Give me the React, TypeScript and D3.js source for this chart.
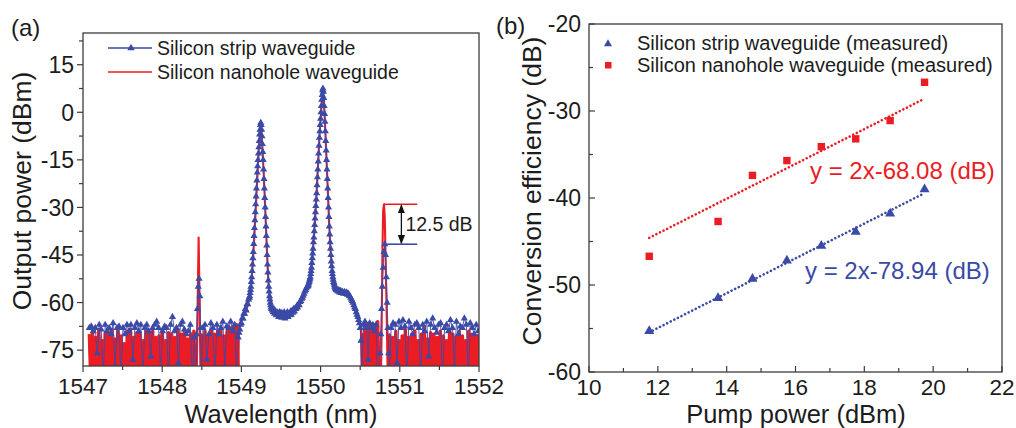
import React from 'react';
import * as d3 from 'd3';

// ---------------- Panel (a): spectra ----------------
const wavelengthTicks = [1547, 1548, 1549, 1550, 1551, 1552];
const outputPowerTicks = [-75, -60, -45, -30, -15, 0, 15];

type Seg = { start: number; step: number; values: number[] };

// Silicon strip waveguide (blue, triangles)
const stripNoiseLeft: Seg = { start: 1547.08, step: 0.025, values: [
  -68, -67.5, -69, -68, -76, -67, -68.5, -84, -67, -69,
  -68, -70, -66.5, -80, -68, -67.5, -84, -68, -70, -67,
  -69, -67, -78, -68, -66.5, -69, -67, -84, -68, -67,
  -69, -77, -68, -67, -66, -68, -82, -69, -67.5, -68,
  -84, -67, -64.5, -69, -68, -79, -67, -66, -68.5, -70,
  -69, -67, -84, -71] };
const stripIdlerLeft: Seg = { start: 1548.425, step: 0.01, values: [-84, -70, -62, -55, -52.5, -58, -68, -84] };
const stripNoiseMid: Seg = { start: 1548.515, step: 0.025, values: [
  -68, -67, -78, -70, -66.5, -68, -84, -67, -70, -68, -66, -80, -67.5, -68, -66, -69, -67, -84] };
const stripRise: Seg = { start: 1548.96, step: 0.01, values: [
  -71, -69.5, -68.5, -67, -66.5, -65, -65, -63.5, -63.5, -62, -62.5, -60.5, -60.5, -59, -58.5] };
const stripSignal: Seg = { start: 1549.105, step: 0.005, values: [
  -58, -57, -56, -55, -53.5, -52, -50, -48, -46, -44,
  -41.5, -39, -36.5, -34, -31.5, -29, -26.5, -24, -21.5, -19,
  -17, -15, -13, -11, -9, -7, -5.5, -4, -3.3, -4,
  -5.5, -7.5, -10, -12.5, -15, -18, -21, -24, -27, -30,
  -33, -36, -39, -42, -45, -48, -50.5, -53, -55, -56.5,
  -58, -59, -60, -60.8, -61.5, -62] };
const stripDip: Seg = { start: 1549.39, step: 0.01, values: [
  -62.5, -63, -62, -63.5, -62.8, -64, -63, -63.5, -64.5, -63,
  -64, -63.2, -64.8, -63.5, -64, -63, -65, -63.8, -64.2, -63,
  -64.5, -63.5, -64, -62.8, -63.8, -62.5, -63.2, -62, -62.8, -61.8,
  -62, -61, -61.5, -60.5, -60.8, -59.8, -59.5, -58.8, -58.5, -57.8,
  -57.2, -56.5, -56, -55.5, -55, -54.8] };
const stripPump: Seg = { start: 1549.845, step: 0.005, values: [
  -54.5, -54, -53.5, -53, -52.5, -52, -51, -50, -49, -47.5,
  -46, -44.5, -43, -41, -39.5, -37.5, -35.5, -33.5, -31.5, -29.5,
  -27.5, -25.5, -23, -20.5, -18, -15.5, -13, -10.5, -8, -6,
  -4, -2, 0, 2, 4, 5.5, 7, 7.5,
  6.5, 4.5, 2, -0.5, -3, -6, -9, -12, -15, -18,
  -21, -24, -27, -30, -33, -36, -38.5, -41, -43, -45,
  -47, -48.5, -50, -51, -52, -52.8, -53.5, -54, -54.5, -55,
  -55.3, -55.6, -55.8, -56] };
const stripShoulder: Seg = { start: 1550.21, step: 0.01, values: [
  -56.2, -56.5, -56, -56.8, -56.3, -57, -56.5, -56.8, -57.2, -56.6,
  -57, -57.3, -56.8, -57.5, -57.2, -57.8, -58, -58.5, -59, -59.5,
  -60, -60.8, -61.5, -62, -63, -63.8, -64.5, -65.5, -66.5, -68,
  -72, -84] };
const stripNoiseRight1: Seg = { start: 1550.54, step: 0.02, values: [-67, -66, -68, -78, -66.5, -68, -67, -69, -67, -84] };
const stripIdlerRight: Seg = { start: 1550.74, step: 0.01, values: [-84, -76, -70, -62, -55, -49, -44, -41.6, -45, -52, -60, -68, -76, -84] };
const stripNoiseRight2: Seg = { start: 1550.89, step: 0.025, values: [
  -68, -66.5, -67, -79, -66, -68, -65.5, -67.5, -84, -66,
  -68, -70, -67, -66.5, -68, -84, -67, -69, -66, -77,
  -67, -65, -68, -69.5, -67, -66.5, -84, -68, -67, -69,
  -65.5, -68, -80, -66, -70, -67.5, -68, -65, -67, -84,
  -66.5, -68, -70, -67, -69] };

// Silicon nanohole waveguide (red line)
const nanoholeNoiseLeft: Seg = { start: 1547.08, step: 0.02, values: [
  -70, -86, -69, -84, -71, -88, -68.5, -83, -72, -87,
  -69.5, -85, -70, -90, -68.5, -84, -71.5, -86, -69, -88,
  -70.5, -83, -73, -87, -69, -85, -68.5, -89, -71, -84,
  -69.5, -86, -70, -88, -72, -85, -68.5, -84, -70, -90,
  -69, -86, -71, -83, -70.5, -88, -68.5, -85, -72, -87,
  -69.5, -84, -70, -89, -71, -86, -68.5, -85, -70, -88,
  -69, -84, -71.5, -87, -70, -85, -69, -88] };
const nanoholeIdlerLeft: Seg = { start: 1548.435, step: 0.0125, values: [-86, -60, -39.5, -60, -86] };
const nanoholeNoiseMid: Seg = { start: 1548.5, step: 0.02, values: [
  -70, -86, -69, -85, -71, -88, -68.5, -84, -70, -87,
  -69, -85, -68, -89, -70.5, -84, -69, -86, -68, -85,
  -67.5, -84, -67, -82] };
const nanoholeSignal: Seg = { start: 1548.97, step: 0.01, values: [
  -67, -66.5, -66, -65.5, -65, -64.5, -64, -63.5, -63, -62.3,
  -61.6, -60.8, -60, -59, -57.5, -55.5, -52.5, -49, -45, -40.5,
  -36, -31, -26, -21, -16, -11.5, -7.5, -4.8, -5.5, -9,
  -13.5, -18.5, -24, -30, -36, -42, -48, -53, -56.5, -58.5,
  -60, -61, -61.5, -62] };
const nanoholeDip: Seg = { start: 1549.41, step: 0.01, values: [
  -62.2, -62.4, -62.5, -62.6, -62.7, -62.8, -62.9, -63, -63, -63.1,
  -63.1, -63.2, -63.2, -63.2, -63.2, -63.2, -63.1, -63, -63, -62.9,
  -62.8, -62.7, -62.6, -62.4, -62.2, -62, -61.8, -61.5, -61.2, -60.9,
  -60.6, -60.2, -59.8, -59.4, -59, -58.5, -58, -57.5, -57, -56.5,
  -56, -55.5, -55, -54.5] };
const nanoholePump: Seg = { start: 1549.85, step: 0.01, values: [
  -54, -53, -52, -50, -47.5, -44.5, -41, -37.5, -33.5, -29.5,
  -25.5, -20.5, -15.5, -10.5, -6, -2.5, 1.5, 5, 7, 4,
  -0.5, -6, -12, -18, -24, -30, -36, -41, -45, -48.5,
  -51, -52.8, -54, -55, -55.6, -56] };
const nanoholeShoulder: Seg = { start: 1550.21, step: 0.01, values: [
  -56.2, -56.4, -56.5, -56.6, -56.7, -56.8, -56.9, -57, -57.1, -57.2,
  -57.3, -57.4, -57.6, -57.8, -58, -58.3, -58.6, -59, -59.5, -60,
  -60.6, -61.2, -61.9, -62.6, -63.3, -64, -64.8, -65.5, -66.3, -67,
  -68, -84, -70] };
const nanoholeNoiseRight1: Seg = { start: 1550.54, step: 0.02, values: [-86, -67, -85, -66.5, -88, -68, -84, -67, -87, -66, -85] };
const nanoholeIdlerRight: Seg = { start: 1550.76, step: 0.01, values: [-86, -70, -45, -31, -29, -33, -45, -58, -72, -88] };
const nanoholeNoiseRight2: Seg = { start: 1550.87, step: 0.02, values: [
  -70, -86, -71, -84, -69, -88, -72, -85, -70.5, -87,
  -68.5, -84, -71, -89, -70, -85, -69, -86, -72, -84,
  -70, -88, -68, -85, -71.5, -86, -69.5, -84, -70, -90,
  -71, -85, -69, -87, -70.5, -84, -72, -86, -68.5, -88,
  -70, -85, -71, -84, -69, -87, -70.5, -85, -72, -86,
  -69, -88, -70, -84, -71, -86, -70] };

const stripSegments = [stripNoiseLeft, stripIdlerLeft, stripNoiseMid, stripRise, stripSignal, stripDip,
  stripPump, stripShoulder, stripNoiseRight1, stripIdlerRight, stripNoiseRight2];
const nanoholeSegments = [nanoholeNoiseLeft, nanoholeIdlerLeft, nanoholeNoiseMid, nanoholeSignal, nanoholeDip,
  nanoholePump, nanoholeShoulder, nanoholeNoiseRight1, nanoholeIdlerRight, nanoholeNoiseRight2];
const nanoholeNoiseSegments = [nanoholeNoiseLeft, nanoholeNoiseMid, nanoholeNoiseRight1, nanoholeNoiseRight2];

// annotation values
const idlerPeakNanohole = -29;
const idlerPeakStrip = -41.6;
const idlerAnnotation = { from: 1550.8, fromStrip: 1550.84, to: 1551.22, arrowAt: 1551.02, label: '12.5 dB' };

const legendA = ['Silicon strip waveguide', 'Silicon nanohole waveguide'];

// ---------------- Panel (b): conversion efficiency ----------------
const pumpPowerTicks = [10, 12, 14, 16, 18, 20, 22];
const efficiencyTicks = [-60, -50, -40, -30, -20];
const pumpPower = [11.75, 13.75, 14.75, 15.75, 16.75, 17.75, 18.75, 19.75];
const stripEfficiency = [-55.3, -51.5, -49.3, -47.2, -45.5, -43.9, -41.8, -39.0];
const nanoholeEfficiency = [-46.7, -42.7, -37.4, -35.7, -34.1, -33.2, -31.1, -26.7];
const nanoholeFit = { slope: 2, intercept: -68.08, label: 'y = 2x-68.08 (dB)' };
const stripFit = { slope: 2, intercept: -78.94, label: 'y = 2x-78.94 (dB)' };
const legendB = ['Silicon strip waveguide (measured)', 'Silicon nanohole waveguide (measured)'];

const BLUE = '#3a4aa6';
const RED = '#ec1c24';
const AXIS = '#3c3c3c';
const TEXT = '#1c1c1c';
const FONT = '"Liberation Sans", Arial, sans-serif';

function expand(segs: Seg[]): [number, number][] {
  const pts: [number, number][] = [];
  segs.forEach((s) => s.values.forEach((v, i) => pts.push([s.start + i * s.step, v])));
  return pts;
}

export default function App() {
  // panel a scales
  const ax = d3.scaleLinear().domain([1547, 1552]).range([83, 479]);
  const ay = d3.scaleLinear().domain([-80, 25]).range([366, 33]);
  // panel b scales
  const bx = d3.scaleLinear().domain([10, 22]).range([589, 1002]);
  const by = d3.scaleLinear().domain([-60, -20]).range([372, 24]);

  const stripPts = expand(stripSegments);
  const holePts = expand(nanoholeSegments);
  const lineA = d3.line<[number, number]>().x((d) => ax(d[0])).y((d) => ay(d[1]));
  const triSmall = d3.symbol().type(d3.symbolTriangle).size(22)()!;
  const triLegendA = d3.symbol().type(d3.symbolTriangle).size(24)()!;
  const triB = d3.symbol().type(d3.symbolTriangle).size(44)()!;
  const triLegendB = d3.symbol().type(d3.symbolTriangle).size(28)()!;

  const aMinorX = d3.range(1547.5, 1552, 1);
  const aMinorY = d3.range(-67.5, 25, 15);
  const bMinorX = d3.range(11, 22, 2);
  const bMinorY = d3.range(-55, -20, 10);

  const fitLine = (f: { slope: number; intercept: number }) => {
    const x0 = pumpPower[0];
    const x1 = pumpPower[pumpPower.length - 1];
    return { x1: bx(x0), y1: by(f.slope * x0 + f.intercept), x2: bx(x1), y2: by(f.slope * x1 + f.intercept) };
  };
  const nf = fitLine(nanoholeFit);
  const sf = fitLine(stripFit);

  const arrowX = ax(idlerAnnotation.arrowAt);
  const yTop = ay(idlerPeakNanohole);
  const yBot = ay(idlerPeakStrip);

  return (
    <svg width={1016} height={428} style={{ position: 'absolute', left: 0, top: 0, background: '#fff' }} fontFamily={FONT}>
      <defs>
        <clipPath id="clipA">
          <rect x={83} y={33} width={396} height={333} />
        </clipPath>
        <marker id="arrowHead" viewBox="0 0 10 10" refX="9" refY="5" markerWidth="7" markerHeight="7" orient="auto-start-reverse">
          <path d="M0,1 L10,5 L0,9 z" fill="#111" />
        </marker>
      </defs>

      {/* ---------- Panel (a) ---------- */}
      <text x={11} y={36} fontSize={24} fill={TEXT}>(a)</text>
      <g clipPath="url(#clipA)">
        <path d={lineA(holePts)!} fill="none" stroke={RED} strokeWidth={2.1} strokeLinejoin="round" />
        {nanoholeNoiseSegments.map((s, i) => (
          <path key={'nz' + i} d={lineA(expand([s]))!} fill="none" stroke={RED} strokeWidth={3.4} strokeLinejoin="round" />
        ))}
        <path d={lineA(stripPts)!} fill="none" stroke={BLUE} strokeWidth={0.9} />
        {stripPts.map((d, i) => (
          <path key={i} d={triSmall} transform={`translate(${ax(d[0])},${ay(d[1])})`} fill={BLUE} />
        ))}
      </g>
      {/* annotation */}
      <line x1={ax(idlerAnnotation.from)} x2={ax(idlerAnnotation.to)} y1={yTop} y2={yTop} stroke={RED} strokeWidth={1.6} />
      <line x1={ax(idlerAnnotation.fromStrip)} x2={ax(idlerAnnotation.to)} y1={yBot} y2={yBot} stroke={BLUE} strokeWidth={1.6} />
      <line x1={arrowX} x2={arrowX} y1={yTop + 1} y2={yBot - 1} stroke="#111" strokeWidth={1.3}
        markerStart="url(#arrowHead)" markerEnd="url(#arrowHead)" />
      <text x={arrowX + 4} y={(yTop + yBot) / 2} dy="0.36em" fontSize={19.5} fill={TEXT}>{idlerAnnotation.label}</text>

      {/* frame & ticks */}
      <rect x={83} y={33} width={396} height={333} fill="none" stroke={AXIS} strokeWidth={1.3} />
      {wavelengthTicks.map((t) => (
        <g key={'ax' + t}>
          <line x1={ax(t)} x2={ax(t)} y1={366} y2={372} stroke={AXIS} strokeWidth={1.2} />
          <text x={ax(t)} y={394} fontSize={22.5} textAnchor="middle" fill={TEXT}>{t}</text>
        </g>
      ))}
      {aMinorX.map((t) => (
        <line key={'amx' + t} x1={ax(t)} x2={ax(t)} y1={366} y2={370} stroke={AXIS} strokeWidth={1.2} />
      ))}
      {outputPowerTicks.map((t) => (
        <g key={'ay' + t}>
          <line x1={77} x2={83} y1={ay(t)} y2={ay(t)} stroke={AXIS} strokeWidth={1.2} />
          <text x={74} y={ay(t)} dy="0.36em" fontSize={23} textAnchor="end" fill={TEXT}>{t}</text>
        </g>
      ))}
      {aMinorY.map((t) => (
        <line key={'amy' + t} x1={79} x2={83} y1={ay(t)} y2={ay(t)} stroke={AXIS} strokeWidth={1.2} />
      ))}
      <text x={281} y={422.5} fontSize={25.5} textAnchor="middle" fill={TEXT}>Wavelength (nm)</text>
      <text transform="translate(31,191) rotate(-90)" fontSize={26.5} textAnchor="middle" fill={TEXT}>Output power (dBm)</text>

      {/* legend a */}
      <line x1={108} x2={152} y1={48} y2={48} stroke={BLUE} strokeWidth={1.5} />
      <path d={triLegendA} transform="translate(131,48)" fill={BLUE} />
      <text x={157} y={48} dy="0.36em" fontSize={19.5} fill={TEXT}>{legendA[0]}</text>
      <line x1={108} x2={152} y1={72} y2={72} stroke={RED} strokeWidth={1.5} />
      <text x={157} y={72} dy="0.36em" fontSize={19.5} fill={TEXT}>{legendA[1]}</text>

      {/* ---------- Panel (b) ---------- */}
      <text x={496} y={34} fontSize={24} fill={TEXT}>(b)</text>
      <line {...nf} stroke={RED} strokeWidth={2.6} strokeDasharray="0.01 4" strokeLinecap="round" />
      <line {...sf} stroke={BLUE} strokeWidth={2.6} strokeDasharray="0.01 4" strokeLinecap="round" />
      {pumpPower.map((p, i) => (
        <rect key={'sq' + i} x={bx(p) - 3.7} y={by(nanoholeEfficiency[i]) - 3.7} width={7.4} height={7.4} fill={RED} />
      ))}
      {pumpPower.map((p, i) => (
        <path key={'tr' + i} d={triB} transform={`translate(${bx(p)},${by(stripEfficiency[i])})`} fill={BLUE} />
      ))}
      <text x={810} y={170} dy="0.36em" fontSize={24} fill={RED}>{nanoholeFit.label}</text>
      <text x={805} y={270} dy="0.36em" fontSize={24} fill={BLUE}>{stripFit.label}</text>

      <rect x={589} y={24} width={413} height={348} fill="none" stroke={AXIS} strokeWidth={1.3} />
      {pumpPowerTicks.map((t) => (
        <g key={'bx' + t}>
          <line x1={bx(t)} x2={bx(t)} y1={372} y2={366} stroke={AXIS} strokeWidth={1.2} />
          <text x={bx(t)} y={395} fontSize={22.5} textAnchor="middle" fill={TEXT}>{t}</text>
        </g>
      ))}
      {bMinorX.map((t) => (
        <line key={'bmx' + t} x1={bx(t)} x2={bx(t)} y1={372} y2={368} stroke={AXIS} strokeWidth={1.2} />
      ))}
      {efficiencyTicks.map((t) => (
        <g key={'by' + t}>
          <line x1={589} x2={595} y1={by(t)} y2={by(t)} stroke={AXIS} strokeWidth={1.2} />
          <text x={581} y={by(t)} dy="0.36em" fontSize={23} textAnchor="end" fill={TEXT}>{t}</text>
        </g>
      ))}
      {bMinorY.map((t) => (
        <line key={'bmy' + t} x1={589} x2={593} y1={by(t)} y2={by(t)} stroke={AXIS} strokeWidth={1.2} />
      ))}
      <text x={796} y={422.5} fontSize={25.5} textAnchor="middle" fill={TEXT}>Pump power (dBm)</text>
      <text transform="translate(541,191) rotate(-90)" fontSize={26.5} textAnchor="middle" fill={TEXT}>Conversion efficiency (dB)</text>

      {/* legend b */}
      <path d={triLegendB} transform="translate(608,44)" fill={BLUE} />
      <text x={637} y={43} dy="0.36em" fontSize={20} fill={TEXT}>{legendB[0]}</text>
      <rect x={605} y={62} width={6.5} height={6.5} fill={RED} />
      <text x={637} y={65} dy="0.36em" fontSize={20} fill={TEXT}>{legendB[1]}</text>
    </svg>
  );
}
